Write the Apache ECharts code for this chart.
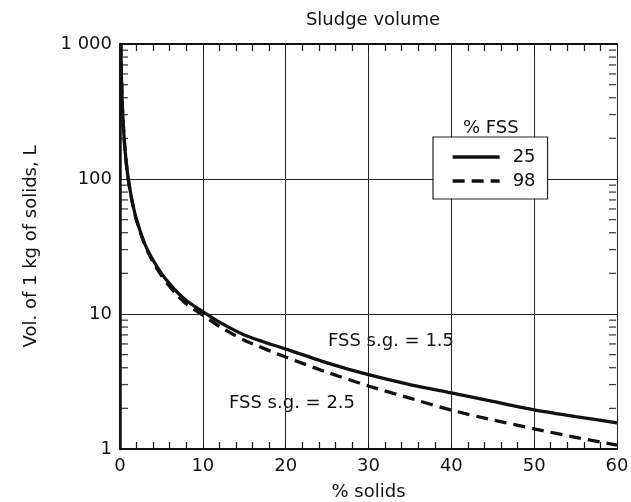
<!DOCTYPE html>
<html>
<head>
<meta charset="utf-8">
<script src="https://cdn.jsdelivr.net/npm/echarts@6/dist/echarts.min.js"></script>
<style>
html,body{margin:0;padding:0;background:#fff;}
#chart{width:631px;height:502px;}
</style>
</head>
<body>
<div id="chart"></div>
<script>
// ---- data ----
const pctSolids = [0.1, 0.15, 0.2, 0.3, 0.5, 0.7, 1, 1.5, 2, 3, 4, 5, 6, 7, 8, 10, 12, 15, 20, 25, 30, 35, 40, 45, 50, 55, 60];
const volFSS25 = [1000, 660, 500, 330, 200, 143, 100, 67, 50, 33, 25, 20, 16.7, 14.3, 12.6, 10.4, 8.7, 7.0, 5.5, 4.35, 3.55, 3.0, 2.6, 2.25, 1.95, 1.74, 1.56];
const volFSS98 = [1000, 660, 500, 330, 199, 142, 99, 66, 49, 32.5, 24.2, 19.3, 16.0, 13.6, 11.9, 9.8, 8.1, 6.4, 4.8, 3.7, 2.93, 2.38, 1.94, 1.64, 1.41, 1.22, 1.07];
const seriesNames = ['25', '98'];
const xTicks = [0, 10, 20, 30, 40, 50, 60];
const yTicks = [1, 10, 100, 1000];
const yMinorTicks = [2,3,4,5,6,7,8,9,20,30,40,50,60,70,80,90,200,300,400,500,600,700,800,900];

const FONT = "'DejaVu Sans',sans-serif";
const FS = 18;
const chart = echarts.init(document.getElementById('chart'));

const leftMinor = yMinorTicks.map(v => [xTicks[0], v]);
const rightMinor = yMinorTicks.map(v => [xTicks[xTicks.length - 1], v]);

chart.setOption({
  animation: false,
  backgroundColor: '#fff',
  title: [
    { text: 'Sludge volume', left: 368, top: 6, textAlign: 'center',
      textStyle: { fontFamily: FONT, fontSize: 18, fontWeight: 'normal', color: '#111' } },
    { text: '% FSS', left: 458, top: 114,
      textStyle: { fontFamily: FONT, fontSize: FS, fontWeight: 'normal', color: '#111' } }
  ],
  grid: { left: 120, right: 14, top: 44, bottom: 53, outerBoundsMode: 'none', containLabel: false },
  legend: {
    data: seriesNames,
    orient: 'vertical',
    left: 433, top: 137,
    itemWidth: 47, itemHeight: 14, itemGap: 6,
    padding: [11, 12, 9, 18],
    backgroundColor: '#fff',
    borderColor: '#222', borderWidth: 1.2,
    itemStyle: { opacity: 0 },
    lineStyle: { width: 3.3 },
    textStyle: { fontFamily: FONT, fontSize: FS, color: '#111', padding: [0, 0, 0, 8] }
  },
  xAxis: [
    { type: 'value', min: 0, max: 60, interval: 10, position: 'bottom',
      name: '% solids', nameLocation: 'middle', nameGap: 34,
      nameTextStyle: { fontFamily: FONT, fontSize: FS, color: '#111' },
      axisLine: { show: true, lineStyle: { color: '#111', width: 2 } },
      axisTick: { show: true, inside: true, length: 7, lineStyle: { color: '#111' } },
      minorTick: { show: true, splitNumber: 5, length: 7, lineStyle: { color: '#111', width: 1.2 } },
      splitLine: { show: true, lineStyle: { color: '#222', width: 1 } },
      axisLabel: { fontFamily: FONT, fontSize: FS, color: '#111', margin: 8 } },
    { type: 'value', min: 0, max: 60, interval: 10, position: 'top',
      axisLine: { show: true, lineStyle: { color: '#111', width: 2 } },
      axisTick: { show: true, inside: true, length: 7, lineStyle: { color: '#111' } },
      minorTick: { show: true, splitNumber: 5, length: 7, lineStyle: { color: '#111', width: 1.2 } },
      splitLine: { show: false },
      axisLabel: { show: false } }
  ],
  yAxis: [
    { type: 'log', logBase: 10, min: 1, max: 1000, position: 'left',
      name: 'Vol. of 1 kg of solids, L', nameLocation: 'middle', nameGap: 80, nameRotate: 90,
      nameTextStyle: { fontFamily: FONT, fontSize: 18, color: '#111' },
      axisLine: { show: true, lineStyle: { color: '#111', width: 2.5 } },
      axisTick: { show: false },
      splitLine: { show: true, lineStyle: { color: '#222', width: 1 } },
      axisLabel: { fontFamily: FONT, fontSize: FS, color: '#111', margin: 8,
        formatter: v => (v >= 1000 ? String(v).replace(/(\d)(?=(\d{3})+$)/g, '$1 ') : String(v)) } },
    { type: 'log', logBase: 10, min: 1, max: 1000, position: 'right',
      axisLine: { show: true, lineStyle: { color: '#111', width: 2 } },
      axisTick: { show: false },
      splitLine: { show: false },
      axisLabel: { show: false } }
  ],
  series: [
    { name: seriesNames[0], type: 'line', xAxisIndex: 0, yAxisIndex: 0,
      data: pctSolids.map((x, i) => [x, volFSS25[i]]),
      showSymbol: false, symbol: 'none', smooth: 0.25,
      itemStyle: { color: '#111' },
      lineStyle: { color: '#111', width: 3.3, type: 'solid' }, z: 5 },
    { name: seriesNames[1], type: 'line', xAxisIndex: 0, yAxisIndex: 0,
      data: pctSolids.map((x, i) => [x, volFSS98[i]]),
      showSymbol: false, symbol: 'none', smooth: 0.25,
      itemStyle: { color: '#111' },
      lineStyle: { color: '#111', width: 3.3, type: [12, 7] }, z: 5 },
    { type: 'scatter', xAxisIndex: 0, yAxisIndex: 0, data: leftMinor,
      symbol: 'rect', symbolSize: [7, 1.3], symbolOffset: [4.5, 0],
      itemStyle: { color: '#111' }, silent: true, z: 4 },
    { type: 'scatter', xAxisIndex: 0, yAxisIndex: 0, data: rightMinor,
      symbol: 'rect', symbolSize: [7, 1.3], symbolOffset: [-4.5, 0],
      itemStyle: { color: '#111' }, silent: true, z: 4 }
  ],
  graphic: [
    { type: 'text', left: 328, top: 332,
      style: { text: 'FSS s.g. = 1.5', font: FS + "px " + FONT, fill: '#111' } },
    { type: 'text', left: 229, top: 394,
      style: { text: 'FSS s.g. = 2.5', font: FS + "px " + FONT, fill: '#111' } }
  ]
});
</script>
</body>
</html>
